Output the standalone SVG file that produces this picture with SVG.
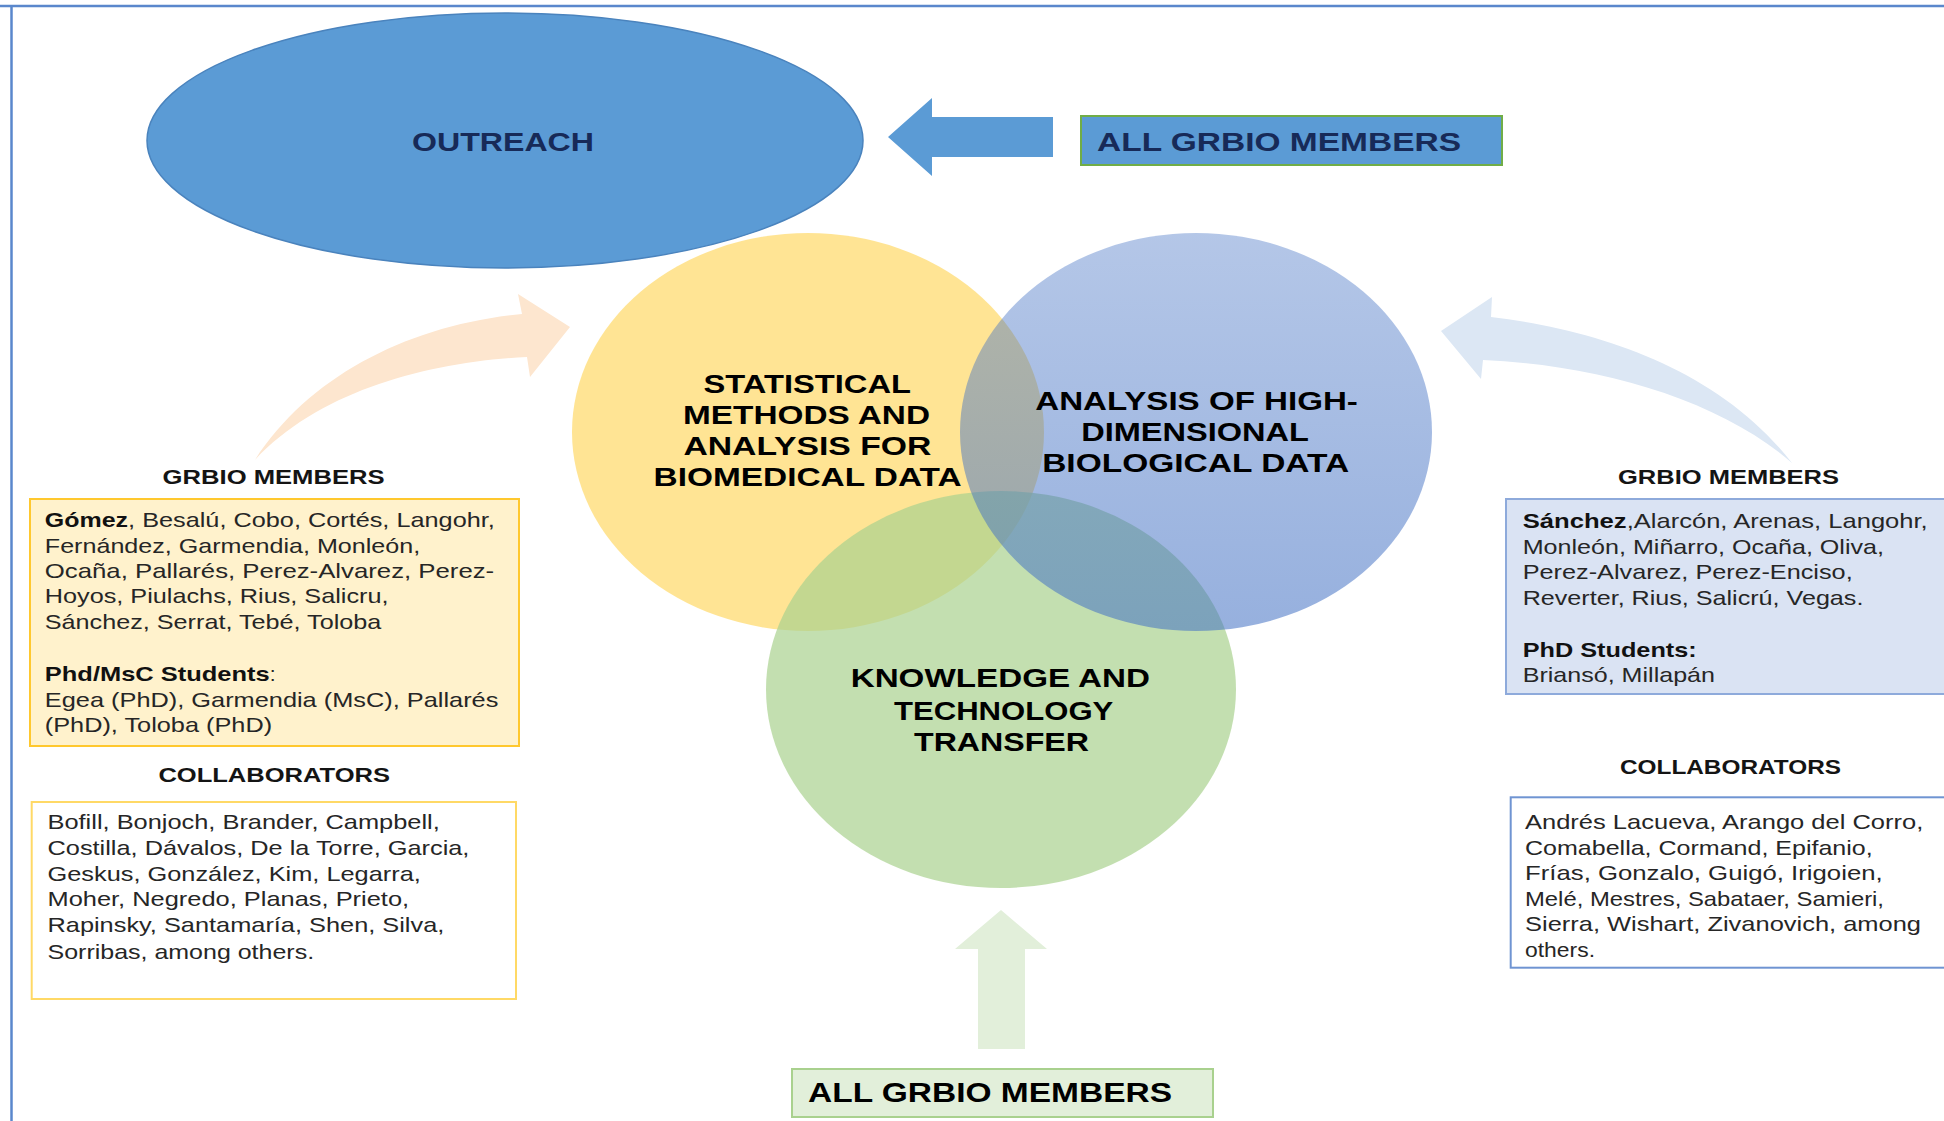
<svg xmlns="http://www.w3.org/2000/svg" width="1944" height="1121" viewBox="0 0 1944 1121">
<style>
text{font-family:"Liberation Sans",Arial,sans-serif}
.b{font-weight:bold}
.body{font-size:21px;fill:#262626}
.bd{font-size:21px;fill:#111;font-weight:bold}
.head{font-size:21px;fill:#141414;font-weight:bold}
.venn{font-size:25px;fill:#000;font-weight:bold}
.navy{font-size:26px;fill:#172a58;font-weight:bold}
</style>
<defs>
<linearGradient id="gBlue" x1="0" y1="0" x2="0" y2="1">
<stop offset="0" stop-color="#4472c4" stop-opacity="0.40"/>
<stop offset="1" stop-color="#4472c4" stop-opacity="0.56"/>
</linearGradient>
</defs>
<rect width="1944" height="1121" fill="#fff"/>
<g id="frame" fill="none" stroke="#5a87cc" stroke-width="2.5">
<line x1="0" y1="6" x2="1944" y2="6"/>
<line x1="11.5" y1="6" x2="11.5" y2="1121"/>
</g>

<g id="connectors">
<path d="M255,460 C310,375 410,325 522,314 L518,294 L570,327 L530,377 L527,357 C430,362 320,390 255,460 Z" fill="#fde6cf"/>
<path d="M1792,463 C1720,370 1600,330 1491,317 L1492,297 L1441,331 L1481,379 L1483,360 C1600,365 1720,400 1792,463 Z" fill="#dce7f4"/>
<polygon points="888,137 932,98 932,117 1053,117 1053,157 932,157 932,176" fill="#5b9bd5"/>
<polygon points="1001,910 1047,949 1025,949 1025,1049 978,1049 978,949 955,949" fill="#e2efda"/>
</g>

<g id="outreach">
<ellipse cx="505" cy="140.5" rx="358" ry="127.5" fill="#5b9bd5" stroke="#4a83bd" stroke-width="1.5"/>
<text class="navy" x="412" y="150.5" textLength="182" lengthAdjust="spacingAndGlyphs">OUTREACH</text>
</g>

<g id="all-members-top">
<rect x="1081" y="116" width="421" height="49" fill="#5b9bd5" stroke="#70ad47" stroke-width="2"/>
<text class="navy" x="1097" y="151" textLength="364" lengthAdjust="spacingAndGlyphs">ALL GRBIO  MEMBERS</text>
</g>

<g id="statistical">
<ellipse cx="808" cy="432" rx="236" ry="199" fill="#ffd966" fill-opacity="0.7"/>
</g>
<g id="knowledge">
<ellipse cx="1001" cy="689.5" rx="235" ry="198.5" fill="#a9d18e" fill-opacity="0.7"/>
</g>
<g id="high-dimensional">
<ellipse cx="1196" cy="432" rx="236" ry="199" fill="url(#gBlue)"/>
</g>
<g id="venn-labels">
<text class="venn" x="703.5" y="393" textLength="207.5" lengthAdjust="spacingAndGlyphs">STATISTICAL</text>
<text class="venn" x="683" y="424" textLength="247" lengthAdjust="spacingAndGlyphs">METHODS  AND</text>
<text class="venn" x="683.4" y="455" textLength="248" lengthAdjust="spacingAndGlyphs">ANALYSIS  FOR</text>
<text class="venn" x="653.6" y="485.7" textLength="308" lengthAdjust="spacingAndGlyphs">BIOMEDICAL  DATA</text>
<text class="venn" x="1035.3" y="410" textLength="322.6" lengthAdjust="spacingAndGlyphs">ANALYSIS  OF HIGH-</text>
<text class="venn" x="1081.2" y="440.7" textLength="227.8" lengthAdjust="spacingAndGlyphs">DIMENSIONAL</text>
<text class="venn" x="1042.2" y="471.7" textLength="307" lengthAdjust="spacingAndGlyphs">BIOLOGICAL  DATA</text>
<text class="venn" x="850.7" y="686.7" textLength="299.3" lengthAdjust="spacingAndGlyphs">KNOWLEDGE AND</text>
<text class="venn" x="894" y="720" textLength="219.3" lengthAdjust="spacingAndGlyphs">TECHNOLOGY</text>
<text class="venn" x="914" y="750.7" textLength="175" lengthAdjust="spacingAndGlyphs">TRANSFER</text>
</g>

<g id="all-members-bottom">
<rect x="792" y="1069" width="421" height="48" fill="#e2efda" stroke="#a9d18e" stroke-width="2"/>
<text x="808" y="1102" textLength="364" lengthAdjust="spacingAndGlyphs" style="font-size:27px;font-weight:bold;fill:#000">ALL GRBIO  MEMBERS</text>
</g>

<g id="left-members">
<text class="head" x="162.6" y="484" textLength="222" lengthAdjust="spacingAndGlyphs">GRBIO MEMBERS</text>
<rect x="30" y="499" width="489" height="247" fill="#fff2cc" stroke="#ffc82e" stroke-width="2"/>
<text class="bd" x="44.8" y="527.3" textLength="83.3" lengthAdjust="spacingAndGlyphs">Gómez</text>
<text class="body" x="128.1" y="527.3" textLength="366.7" lengthAdjust="spacingAndGlyphs">, Besalú,  Cobo, Cortés, Langohr,</text>
<text class="body" x="44.8" y="552.7" textLength="375.4" lengthAdjust="spacingAndGlyphs">Fernández,  Garmendia, Monleón,</text>
<text class="body" x="44.8" y="577.7" textLength="449.4" lengthAdjust="spacingAndGlyphs">Ocaña,  Pallarés, Perez-Alvarez,  Perez-</text>
<text class="body" x="44.8" y="603.3" textLength="343.7" lengthAdjust="spacingAndGlyphs">Hoyos, Piulachs, Rius, Salicru,</text>
<text class="body" x="44.8" y="628.7" textLength="336.5" lengthAdjust="spacingAndGlyphs">Sánchez,  Serrat, Tebé, Toloba</text>
<text class="bd" x="44.8" y="680.7" textLength="224.9" lengthAdjust="spacingAndGlyphs">Phd/MsC Students</text>
<text class="body" x="269.7" y="680.7">:</text>
<text class="body" x="44.8" y="706.7" textLength="453.6" lengthAdjust="spacingAndGlyphs">Egea (PhD), Garmendia  (MsC), Pallarés</text>
<text class="body" x="44.8" y="732" textLength="227.3" lengthAdjust="spacingAndGlyphs">(PhD), Toloba  (PhD)</text>
</g>

<g id="left-collaborators">
<text class="head" x="158.4" y="782" textLength="231.6" lengthAdjust="spacingAndGlyphs">COLLABORATORS</text>
<rect x="31.7" y="802" width="484.3" height="197" fill="#fff" stroke="#ffd966" stroke-width="2"/>
<text class="body" x="47.5" y="829" textLength="392.3" lengthAdjust="spacingAndGlyphs">Bofill, Bonjoch,  Brander,  Campbell,</text>
<text class="body" x="47.5" y="855" textLength="421.9" lengthAdjust="spacingAndGlyphs">Costilla, Dávalos,  De la Torre,  Garcia,</text>
<text class="body" x="47.5" y="880.7" textLength="373.3" lengthAdjust="spacingAndGlyphs">Geskus,  González,  Kim, Legarra,</text>
<text class="body" x="47.5" y="906.3" textLength="361.6" lengthAdjust="spacingAndGlyphs">Moher,  Negredo, Planas,  Prieto,</text>
<text class="body" x="47.5" y="932" textLength="396.8" lengthAdjust="spacingAndGlyphs">Rapinsky,  Santamaría,  Shen, Silva,</text>
<text class="body" x="47.5" y="958.7" textLength="266.6" lengthAdjust="spacingAndGlyphs">Sorribas, among others.</text>
</g>

<g id="right-members">
<text class="head" x="1618" y="484" textLength="221" lengthAdjust="spacingAndGlyphs">GRBIO MEMBERS</text>
<rect x="1506" y="499" width="450" height="195" fill="#dae3f3" stroke="#8eaadb" stroke-width="2"/>
<text class="bd" x="1522.7" y="528.3" textLength="104" lengthAdjust="spacingAndGlyphs">Sánchez</text>
<text class="body" x="1626.7" y="528.3" textLength="301" lengthAdjust="spacingAndGlyphs">,Alarcón, Arenas,  Langohr,</text>
<text class="body" x="1522.7" y="554.3" textLength="361.3" lengthAdjust="spacingAndGlyphs">Monleón,  Miñarro, Ocaña, Oliva,</text>
<text class="body" x="1522.7" y="579.3" textLength="330" lengthAdjust="spacingAndGlyphs">Perez-Alvarez,  Perez-Enciso,</text>
<text class="body" x="1522.7" y="605" textLength="340.7" lengthAdjust="spacingAndGlyphs">Reverter,  Rius, Salicrú, Vegas.</text>
<text class="bd" x="1522.7" y="656.7" textLength="174" lengthAdjust="spacingAndGlyphs">PhD Students:</text>
<text class="body" x="1522.7" y="681.7" textLength="192.3" lengthAdjust="spacingAndGlyphs">Briansó, Millapán</text>
</g>

<g id="right-collaborators">
<text class="head" x="1620" y="774" textLength="221" lengthAdjust="spacingAndGlyphs">COLLABORATORS</text>
<rect x="1510.7" y="797.3" width="450" height="170.4" fill="#fff" stroke="#6f94d2" stroke-width="2"/>
<text class="body" x="1525" y="829.3" textLength="398.3" lengthAdjust="spacingAndGlyphs">Andrés Lacueva, Arango del Corro,</text>
<text class="body" x="1525" y="855" textLength="347.7" lengthAdjust="spacingAndGlyphs">Comabella, Cormand, Epifanio,</text>
<text class="body" x="1525" y="880" textLength="357.7" lengthAdjust="spacingAndGlyphs">Frías, Gonzalo,  Guigó, Irigoien,</text>
<text class="body" x="1525" y="905.7" textLength="359" lengthAdjust="spacingAndGlyphs">Melé, Mestres, Sabataer, Samieri,</text>
<text class="body" x="1525" y="931" textLength="396" lengthAdjust="spacingAndGlyphs">Sierra, Wishart,  Zivanovich,  among</text>
<text class="body" x="1525" y="956.7" textLength="70" lengthAdjust="spacingAndGlyphs">others.</text>
</g>
</svg>
